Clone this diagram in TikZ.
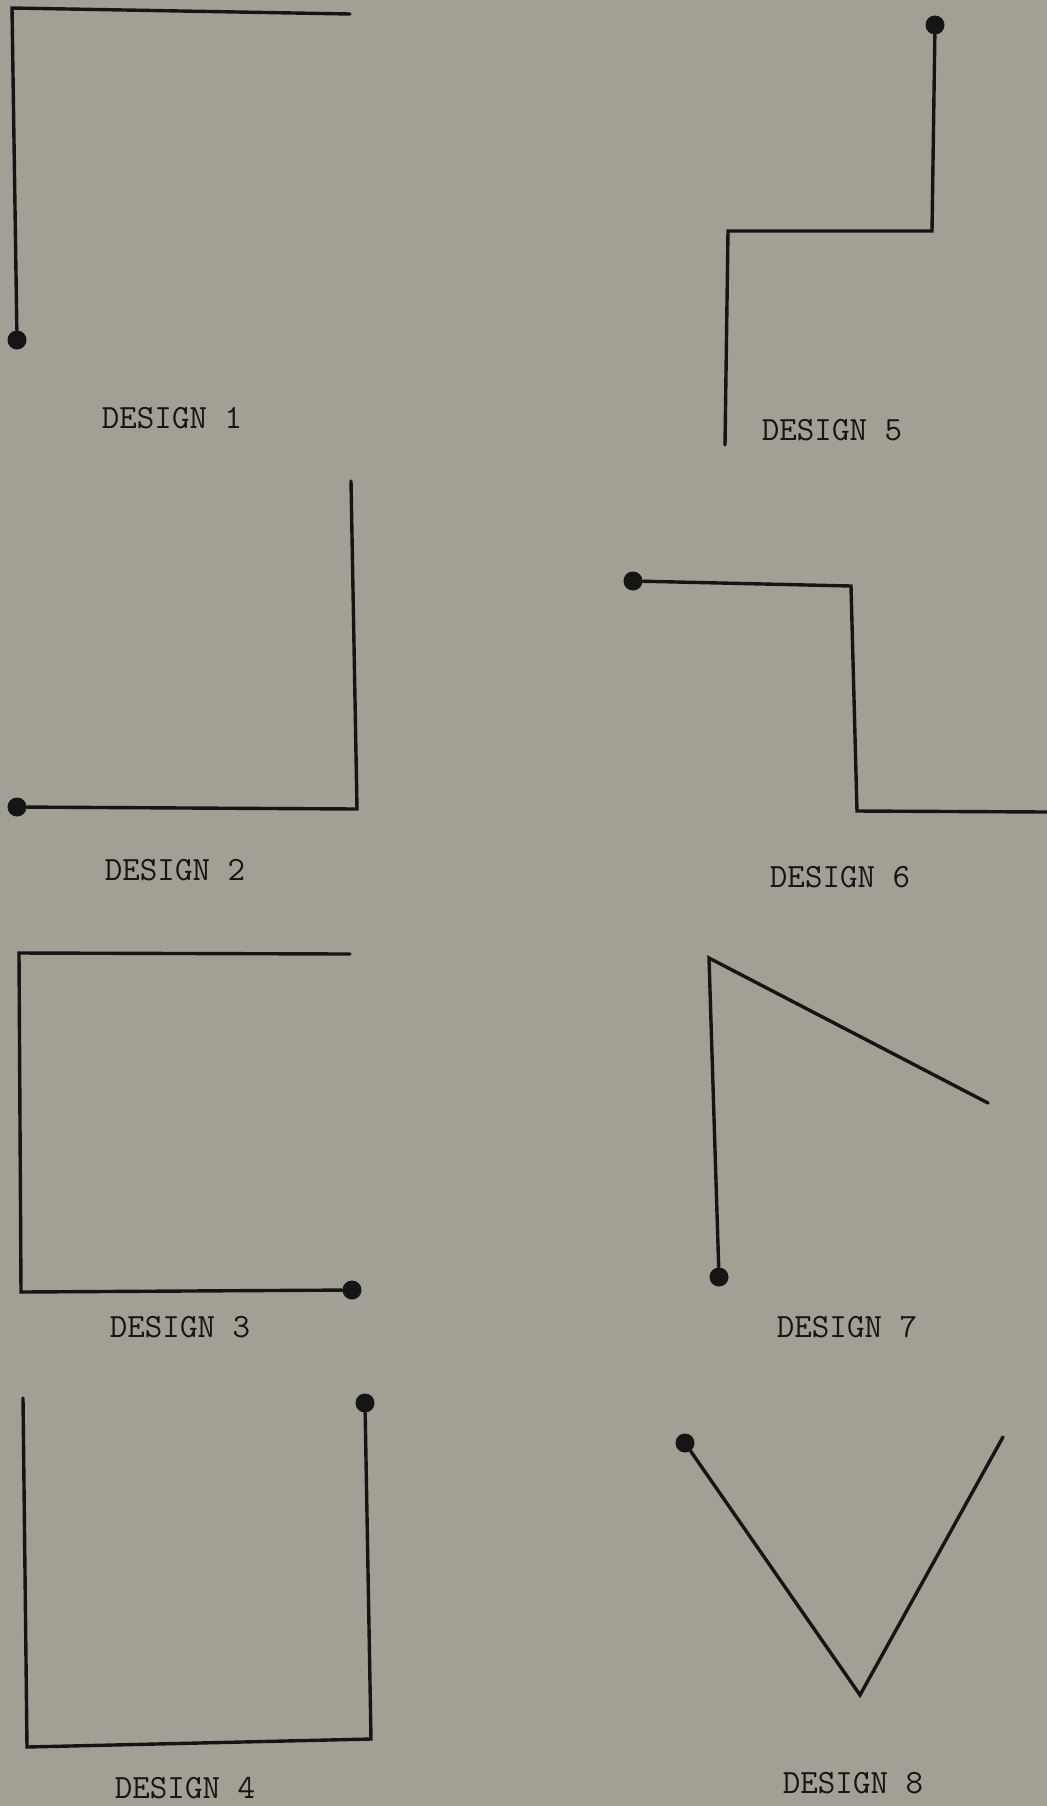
\documentclass[tikz,border=0pt]{standalone}
\usepackage{tikz}
\usetikzlibrary{positioning}
\definecolor{paper}{HTML}{A29F94}
\definecolor{ink}{HTML}{151515}
\tikzset{
  every node/.style={text=ink},
  trace/.style={draw=ink, line width=1.7pt, line join=miter, line cap=round},
  penstart/.style={circle, fill=ink, inner sep=0pt, minimum size=9.5pt},
  caption/.style={font=\fontsize{17}{19}\selectfont\ttfamily, inner sep=0pt}
}
\begin{document}
\begin{tikzpicture}[x=0.5pt,y=-0.5pt]

% page, in pixel units of the scanned sheet
\fill[paper] (0,0) rectangle (1047,1806);
\useasboundingbox (0,0) rectangle (1047,1806);

% Design 1: start bottom left, up and across the top
\node[penstart] (d1s) at (17,340) {};
\coordinate (d1a) at (12,8);
\coordinate (d1e) at (350,14);
\draw[trace] (d1s) -- (d1a) -- (d1e);
\node[caption] (c1) at (172,418) {DESIGN 1};

% Design 2: start bottom left, across and up the right side
\node[penstart] (d2s) at (17,807) {};
\coordinate (d2a) at (357,809);
\coordinate (d2e) at (351,481);
\draw[trace] (d2s) -- (d2a) -- (d2e);
\node[caption] (c2) at (175,870) {DESIGN 2};

% Design 3: open box, start bottom right
\node[penstart] (d3s) at (352,1290) {};
\coordinate (d3a) at (21,1292);
\coordinate (d3b) at (19,953);
\coordinate (d3e) at (350,954);
\draw[trace] (d3s) -- (d3a) -- (d3b) -- (d3e);
\node[caption] (c3) at (180,1327) {DESIGN 3};

% Design 4: cup, start top right
\node[penstart] (d4s) at (365,1403) {};
\coordinate (d4a) at (371,1739);
\coordinate (d4b) at (27,1747);
\coordinate (d4e) at (23,1398);
\draw[trace] (d4s) -- (d4a) -- (d4b) -- (d4e);
\node[caption] (c4) at (185,1788) {DESIGN 4};

% Design 5: step down from top right
\node[penstart] (d5s) at (935,25) {};
\coordinate (d5a) at (932,231);
\coordinate (d5b) at (728,231);
\coordinate (d5e) at (725,445);
\draw[trace] (d5s) -- (d5a) -- (d5b) -- (d5e);
\node[caption] (c5) at (832,430) {DESIGN 5};

% Design 6: step down from top left, off the right edge
\node[penstart] (d6s) at (633,581) {};
\coordinate (d6a) at (851,586);
\coordinate (d6b) at (857,811);
\coordinate (d6e) at (1047,812);
\draw[trace] (d6s) -- (d6a) -- (d6b) -- (d6e);
\node[caption] (c6) at (840,877) {DESIGN 6};

% Design 7: up, then a slanted stroke
\node[penstart] (d7s) at (719,1277) {};
\coordinate (d7a) at (709,958);
\coordinate (d7e) at (988,1103);
\draw[trace] (d7s) -- (d7a) -- (d7e);
\node[caption] (c7) at (847,1327) {DESIGN 7};

% Design 8: the V
\node[penstart] (d8s) at (685,1443) {};
\coordinate (d8a) at (860,1695);
\coordinate (d8e) at (1003,1437);
\draw[trace] (d8s) -- (d8a) -- (d8e);
\node[caption] (c8) at (853,1783) {DESIGN 8};

\end{tikzpicture}
\end{document}
